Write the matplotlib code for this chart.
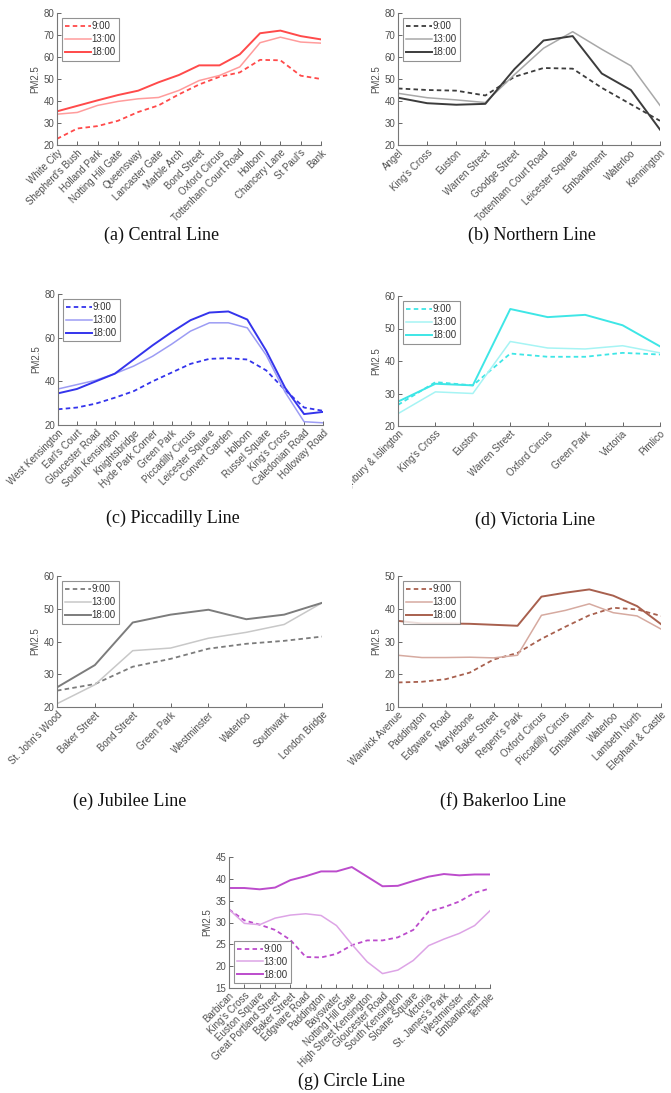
import numpy as np
import matplotlib
matplotlib.use("Agg")
import matplotlib.pyplot as plt
from matplotlib.transforms import Bbox

# ---- data ----
central_stations = ["White City", "Shepherd's Bush", "Holland Park", "Notting Hill Gate", "Queensway",
                    "Lancaster Gate", "Marble Arch", "Bond Street", "Oxford Circus", "Tottenham Court Road",
                    "Holborn", "Chancery Lane", "St Paul's", "Bank"]
central_9 = [22.8, 27.5, 28.6, 31.0, 35.0, 38.0, 43.0, 47.5, 51.0, 53.0, 58.7, 58.5, 51.5, 50.0]
central_13 = [34.0, 34.8, 38.0, 39.8, 41.0, 41.6, 44.8, 49.3, 51.6, 55.5, 66.5, 69.0, 66.8, 66.3]
central_18 = [35.3, 37.8, 40.3, 42.7, 44.7, 48.5, 51.8, 56.2, 56.2, 61.2, 70.8, 72.0, 69.5, 68.0]

northern_stations = ["Angel", "King's Cross", "Euston", "Warren Street", "Goodge Street",
                     "Tottenham Court Road", "Leicester Square", "Embankment", "Waterloo", "Kennington"]
northern_9 = [45.7, 45.0, 44.7, 42.5, 51.0, 55.0, 54.7, 46.0, 38.5, 31.0]
northern_13 = [43.5, 41.5, 40.5, 39.3, 52.0, 64.0, 71.5, 63.5, 56.0, 38.0]
northern_18 = [41.5, 39.0, 38.3, 38.7, 54.5, 67.5, 69.5, 52.5, 45.0, 27.0]

picc_stations = ["West Kensington", "Earl's Court", "Gloucester Road", "South Kensington", "Knightsbridge",
                 "Hyde Park Corner", "Green Park", "Piccadilly Circus", "Leicester Square", "Convert Garden",
                 "Holborn", "Russel Square", "King's Cross", "Caledonian Road", "Holloway Road"]
picc_9 = [27.2, 28.0, 29.8, 32.5, 35.5, 40.0, 44.0, 48.0, 50.3, 50.6, 50.0, 45.0, 36.0, 28.0, 26.5]
picc_13 = [36.5, 38.5, 40.5, 43.5, 47.0, 51.5, 57.0, 63.0, 66.8, 66.8, 64.5, 52.0, 35.0, 21.5, 21.0]
picc_18 = [34.5, 36.5, 40.0, 43.5, 50.0, 56.5, 62.5, 68.0, 71.5, 72.0, 68.3, 54.0, 37.0, 25.0, 26.0]

victoria_stations = ["Highbury & Islington", "King's Cross", "Euston", "Warren Street", "Oxford Circus",
                     "Green Park", "Victoria", "Pimlico"]
victoria_9 = [26.5, 33.5, 32.5, 42.3, 41.3, 41.3, 42.5, 42.0]
victoria_13 = [23.8, 30.5, 30.0, 46.0, 44.0, 43.7, 44.7, 42.5]
victoria_18 = [27.5, 33.0, 32.5, 56.0, 53.5, 54.2, 51.0, 44.5]

jubilee_stations = ["St. John's Wood", "Baker Street", "Bond Street", "Green Park", "Westminster",
                    "Waterloo", "Southwark", "London Bridge"]
jubilee_9 = [25.0, 27.0, 32.3, 34.7, 37.8, 39.3, 40.2, 41.5]
jubilee_13 = [21.0, 26.8, 37.2, 38.0, 41.0, 42.8, 45.2, 51.8]
jubilee_18 = [26.0, 32.8, 45.8, 48.2, 49.7, 46.8, 48.2, 51.8]

bakerloo_stations = ["Warwick Avenue", "Paddington", "Edgware Road", "Marylebone", "Baker Street",
                     "Regent's Park", "Oxford Circus", "Piccadilly Circus", "Embankment", "Waterloo",
                     "Lambeth North", "Elephant & Castle"]
bakerloo_9 = [17.5, 17.7, 18.5, 20.5, 24.5, 26.5, 30.8, 34.5, 38.0, 40.3, 39.8, 37.8]
bakerloo_13 = [25.8, 25.1, 25.1, 25.2, 25.0, 25.8, 38.0, 39.5, 41.5, 38.8, 37.8, 33.8]
bakerloo_18 = [36.3, 35.5, 35.5, 35.4, 35.1, 34.8, 43.7, 44.9, 45.9, 44.0, 40.8, 35.3]

circle_stations = ["Barbican", "King's Cross", "Euston Square", "Great Portland Street", "Baker Street",
                   "Edgware Road", "Paddington", "Bayswater", "Notting Hill Gate", "High Street Kensington",
                   "Gloucester Road", "South Kensington", "Sloane Square", "Victoria", "St. James's Park",
                   "Westminster", "Embankment", "Temple"]
circle_9 = [33.0, 30.5, 29.5, 28.3, 26.0, 22.1, 22.0, 22.8, 24.8, 25.9, 25.9, 26.6, 28.3, 32.5, 33.5, 34.8, 36.8, 37.8]
circle_13 = [33.0, 29.8, 29.5, 31.0, 31.7, 32.0, 31.6, 29.3, 25.0, 21.0, 18.3, 19.1, 21.3, 24.7, 26.2, 27.5, 29.3, 32.7]
circle_18 = [37.9, 37.9, 37.6, 38.0, 39.7, 40.6, 41.7, 41.7, 42.7, 40.5, 38.3, 38.4, 39.5, 40.5, 41.1, 40.8, 41.0, 41.0]

times = ["9:00", "13:00", "18:00"]

W, H = 671, 1093
fig = plt.figure(figsize=(W / 100, H / 100), dpi=100)
plt.rcParams['font.family'] = ['Liberation Sans', 'DejaVu Sans']

TXT = '#505050'


def px_axes(l, t, r, b):
    return fig.add_axes([l / W, 1 - b / H, (r - l) / W, (b - t) / H])


def panel(box, stations, s9, s13, s18, c_main, c_light, ylim, yticks, caption, cap_xy,
          leg_loc='upper left', clip_left=None):
    ax = px_axes(*box)
    x = np.arange(len(stations))
    ax.plot(x, s9, color=c_main, lw=1.3, ls=(0, (2.5, 1.8)), label=times[0])
    ax.plot(x, s13, color=c_light, lw=1.1, label=times[1])
    ax.plot(x, s18, color=c_main, lw=1.4, label=times[2])
    ax.set_xlim(0, len(stations) - 1)
    ax.set_ylim(*ylim)
    ax.set_yticks(yticks)
    ax.set_xticks(x)
    labels = ax.set_xticklabels(stations, rotation=45, ha='right', rotation_mode='anchor')
    ax.tick_params(direction='in', length=3, width=0.7, labelsize=7, colors='#666666', labelcolor=TXT, pad=2)
    for s in ['top', 'right']:
        ax.spines[s].set_visible(False)
    for s in ['left', 'bottom']:
        ax.spines[s].set_color('#777777')
        ax.spines[s].set_linewidth(0.8)
    ax.set_ylabel('PM2.5', fontsize=7, color=TXT, labelpad=2)
    leg = ax.legend(loc=leg_loc, fontsize=7, frameon=True, fancybox=False, handlelength=2.6,
                    handletextpad=0.1, borderpad=0.35, labelspacing=0.3, borderaxespad=0.5)
    leg.get_frame().set_edgecolor('#777777')
    leg.get_frame().set_linewidth(0.8)
    for t in leg.get_texts():
        t.set_color('#333333')
    if clip_left is not None:
        # the scanned sub-figure cuts off the long first label
        clip = Bbox.from_extents(clip_left, 0, W, H)
        for lab in labels:
            lab.set_clip_box(clip)
            lab.set_clip_on(True)
    fig.text(cap_xy[0] / W, 1 - cap_xy[1] / H, caption, ha='center', va='center',
             fontsize=13, family='Liberation Serif', color='#111111')
    return ax


panel((57, 13, 321, 145), central_stations, central_9, central_13, central_18,
      '#FF4A4A', '#FF9C9C', (20, 80), [20, 30, 40, 50, 60, 70, 80], '(a) Central Line', (162, 235))
panel((398, 13, 660, 145), northern_stations, northern_9, northern_13, northern_18,
      '#3C3C3C', '#A8A8A8', (20, 80), [20, 30, 40, 50, 60, 70, 80], '(b) Northern Line', (532, 235))
panel((58, 294, 323, 425), picc_stations, picc_9, picc_13, picc_18,
      '#3434EC', '#9C9CF4', (20, 80), [20, 40, 60, 80], '(c) Piccadilly Line', (173, 518))
panel((398, 296, 660, 426), victoria_stations, victoria_9, victoria_13, victoria_18,
      '#3EE6E6', '#A6F4F4', (20, 60), [20, 30, 40, 50, 60], '(d) Victoria Line', (535, 520),
      clip_left=352)
panel((57, 576, 322, 707), jubilee_stations, jubilee_9, jubilee_13, jubilee_18,
      '#7C7C7C', '#C8C8C8', (20, 60), [20, 30, 40, 50, 60], '(e) Jubilee Line', (130, 801))
panel((398, 576, 661, 707), bakerloo_stations, bakerloo_9, bakerloo_13, bakerloo_18,
      '#A8604E', '#D6AAA0', (10, 50), [10, 20, 30, 40, 50], '(f) Bakerloo Line', (503, 801))
panel((229, 857, 490, 988), circle_stations, circle_9, circle_13, circle_18,
      '#BC4CCC', '#DDA4E6', (15, 45), [15, 20, 25, 30, 35, 40, 45], '(g) Circle Line', (352, 1081),
      leg_loc='lower left')

fig.savefig('out.png', dpi=100)
